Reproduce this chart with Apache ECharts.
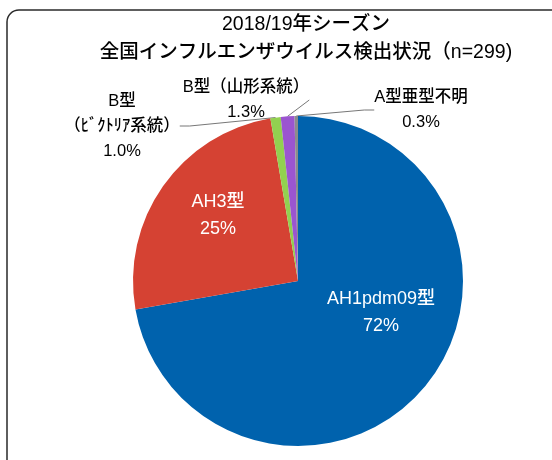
<!DOCTYPE html>
<html>
<head>
<meta charset="utf-8">
<script src="https://cdn.jsdelivr.net/npm/echarts@6/dist/echarts.min.js"></script>
<style>
html, body { margin: 0; padding: 0; background: #fff; }
#myChart { width: 552px; height: 460px; }
</style>
</head>
<body>
<div id="myChart"></div>
<script>
// データ
var names = ['AH1pdm09型', 'AH3型', 'B型\n（ﾋﾞｸﾄﾘｱ系統）', 'B型（山形系統）', 'A型亜型不明'];
var counts = [216, 75, 3, 4, 1];
var colors = ['#0062ad', '#d54233', '#92d050', '#9b55d0', '#8c8c8c'];
var titleText = '2018/19年シーズン\n全国インフルエンザウイルス検出状況（n=299)';

var font = '"Liberation Sans", "Noto Sans CJK JP", sans-serif';

// ラベル位置（中心）
var labelPos = [[381, 313], [218, 216], [122, 126], [246, 100], [421, 110]];

var myChart = echarts.init(document.getElementById('myChart'));

var pieData = [];
for (var i = 0; i < counts.length; i++) {
	var inside = i < 2;
	pieData.push({
		name: names[i],
		value: counts[i],
		itemStyle: { color: colors[i] },
		label: inside ? {
			position: 'inside',
			color: '#fff',
			fontSize: 18,
			lineHeight: 27
		} : {
			position: 'outside',
			color: '#000',
			fontSize: 16.5,
			lineHeight: 25
		},
		labelLine: { show: !inside }
	});
}

var option = {
	backgroundColor: '#fff',
	animation: false,
	graphic: [{
		type: 'rect',
		shape: { x: 7, y: 10, width: 620, height: 520, r: 12 },
		style: { fill: 'none', stroke: '#2a2a2a', lineWidth: 1.5 },
		z: -1
	}, {
		type: 'text',
		x: 306,
		y: 11,
		style: {
			text: titleText,
			fontSize: 19.5,
			fontWeight: 500,
			lineHeight: 28,
			fontFamily: font,
			fill: '#000',
			align: 'center',
			verticalAlign: 'top'
		}
	}],
	series: [{
		type: 'pie',
		center: [298, 281],
		radius: 165,
		startAngle: 90,
		clockwise: true,
		avoidLabelOverlap: false,
		data: pieData,
		label: {
			fontFamily: font,
			fontWeight: 500,
			align: 'center',
			formatter: function(p) {
				var pct = p.dataIndex < 2 ? Math.round(p.percent) + '%' : p.percent.toFixed(1) + '%';
				return p.name + '\n' + pct;
			}
		},
		labelLine: {
			length: 10,
			length2: 10,
			lineStyle: { color: '#777', width: 1 }
		},
		labelLayout: function(params) {
			var p = labelPos[params.dataIndex];
			return { x: p[0], y: p[1], align: 'center', verticalAlign: 'middle' };
		}
	}]
};
myChart.setOption(option);
</script>
</body>
</html>
